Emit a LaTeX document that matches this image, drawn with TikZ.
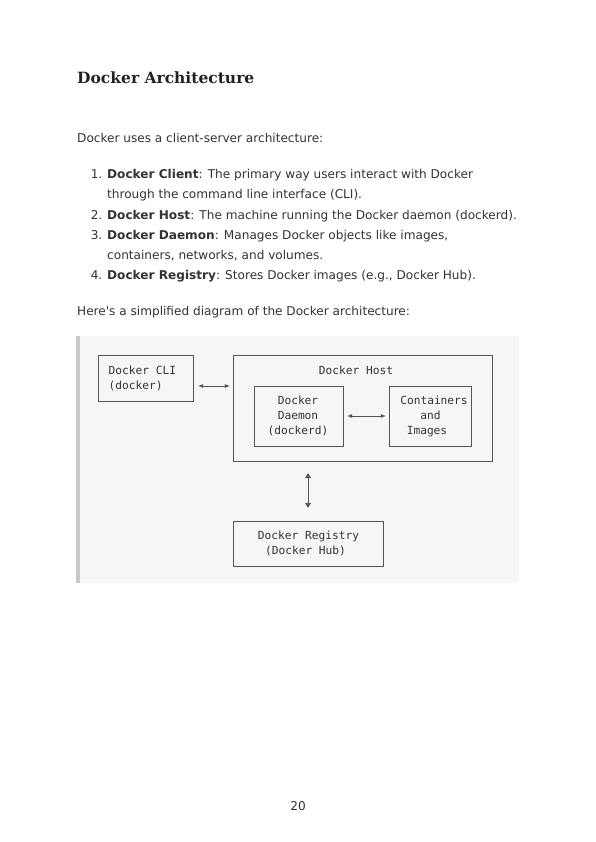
\documentclass[tikz,border=0pt]{standalone}
\usepackage{fontspec}
\setmainfont{DejaVu Sans}
\newfontfamily\titlefont{DejaVu Serif}
\newfontfamily\aposfont{DejaVu Sans}[Ligatures=ResetAll]
\setmonofont{DejaVu Sans Mono}
\usetikzlibrary{arrows.meta}
\definecolor{bodytext}{HTML}{333333}
\definecolor{titletext}{HTML}{222222}
\definecolor{codebg}{HTML}{F6F6F8}
\definecolor{codebar}{HTML}{C8C8C8}
\definecolor{boxline}{HTML}{555555}
\tikzset{
  body/.style={anchor=base west, inner sep=0pt, text=bodytext, font=\fontsize{12.1}{14}\selectfont},
  num/.style={anchor=base east, inner sep=0pt, text=bodytext, font=\fontsize{12.1}{14}\selectfont},
  mono/.style={anchor=base, inner sep=0pt, text=bodytext, font=\ttfamily\fontsize{11.2}{15}\selectfont},
  asciibox/.style={draw=boxline, line width=0.6pt, fill=none},
  link/.style={draw=boxline, line width=0.6pt, {Latex[length=5pt,width=4pt]}-{Latex[length=5pt,width=4pt]}},
  vlink/.style={draw=boxline, line width=0.7pt, {Triangle[length=5pt,width=6pt]}-{Triangle[length=5pt,width=6pt]}}
}
\begin{document}
\begin{tikzpicture}[x=1pt,y=-1pt]
\useasboundingbox (0,0) rectangle (596,842);
\fill[white] (0,0) rectangle (596,842);
% title
\node[anchor=base west, inner sep=0pt, text=titletext, font=\titlefont\bfseries\fontsize{15.5}{18}\selectfont] (title) at (77,84) {Docker Architecture};
\node[body] (intro) at (77,143) {Docker uses a client-server architecture:};
% list
\node[num] (n1) at (102.5,179) {1.};
\node[body] (l1a) at (107,179) {\textbf{Docker Client}: The primary way users interact with Docker};
\node[body] (l1b) at (107,199) {through the command line interface (CLI).};
\node[num] (n2) at (102.5,219) {2.};
\node[body] (l2) at (107,219) {\textbf{Docker Host}: The machine running the Docker daemon (dockerd).};
\node[num] (n3) at (102.5,239) {3.};
\node[body] (l3a) at (107,239) {\textbf{Docker Daemon}: Manages Docker objects like images,};
\node[body] (l3b) at (107,259) {containers, networks, and volumes.};
\node[num] (n4) at (102.5,279) {4.};
\node[body] (l4) at (107,279) {\textbf{Docker Registry}: Stores Docker images (e.g., Docker Hub).};
\node[body] (here) at (77,315) {Here{\aposfont'}s a simplified diagram of the Docker architecture:};
% code block
\fill[codebg] (76,336) rectangle (519,583);
\fill[codebar] (76,336) rectangle (80,583);
% boxes
\draw[asciibox] (98,355) rectangle (193,401);
\draw[asciibox] (233,355) rectangle (492,461);
\draw[asciibox] (254,386) rectangle (343,446);
\draw[asciibox] (389,386) rectangle (471,446);
\draw[asciibox] (233,521) rectangle (383,566);
% invisible nodes for the boxes (for connectors)
\node[minimum width=95pt, minimum height=46pt, inner sep=0pt] (clibox) at (145.5,378) {};
\node[minimum width=259pt, minimum height=106pt, inner sep=0pt] (hostbox) at (362.5,408) {};
\node[minimum width=89pt, minimum height=60pt, inner sep=0pt] (daemonbox) at (298.5,416) {};
\node[minimum width=82pt, minimum height=60pt, inner sep=0pt] (contbox) at (430,416) {};
\node[minimum width=150pt, minimum height=45pt, inner sep=0pt] (regbox) at (308,543.5) {};
% texts
\node[mono, anchor=base west] (t1) at (108.5,374) {Docker CLI};
\node[mono, anchor=base west] (t2) at (108.5,389) {(docker)};
\node[mono] (t3) at (356,374) {Docker Host};
\node[mono] (t4) at (298,404) {Docker};
\node[mono] (t5) at (298,419) {Daemon};
\node[mono] (t6) at (298,434) {(dockerd)};
\node[mono] (t7) at (434,404) {Containers};
\node[mono] (t8) at (430.5,419) {and};
\node[mono] (t9) at (427,434) {Images};
\node[mono] (t10) at (308.5,539) {Docker Registry};
\node[mono] (t11) at (305.5,554) {(Docker Hub)};
% connectors
\draw[link, shorten <=5pt, shorten >=3pt] (clibox.east |- 0,386) -- (hostbox.west |- 0,386);
\draw[link, shorten <=4pt, shorten >=3pt] (daemonbox.east) -- (contbox.west);
\draw[vlink, shorten <=12pt, shorten >=13pt] (hostbox.south -| 308,0) -- (regbox.north -| 308,0);
% page number
\node[anchor=base, inner sep=0pt, text=bodytext, font=\fontsize{12.1}{14}\selectfont] (page) at (298,810) {20};
\end{tikzpicture}
\end{document}
